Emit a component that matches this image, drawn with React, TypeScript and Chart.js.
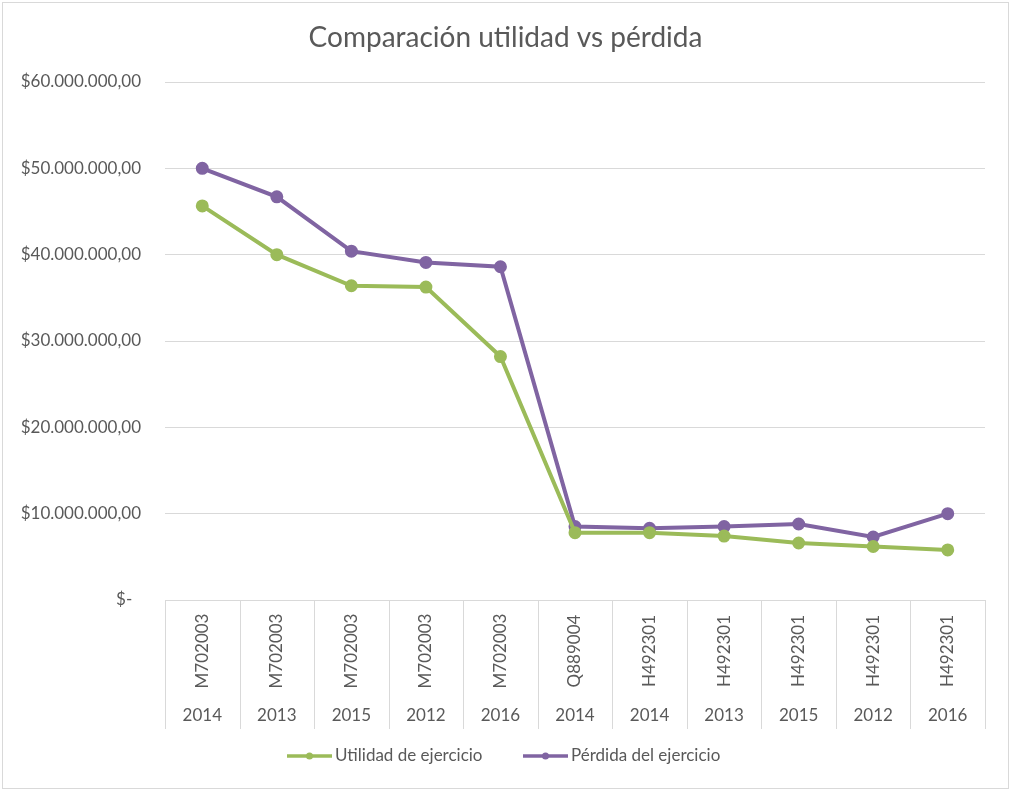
import React, { useEffect, useRef } from "react";
import { Chart, registerables } from "chart.js";

Chart.register(...registerables);

const chartTitle = "Comparación utilidad vs pérdida";
const codes = ["M702003", "M702003", "M702003", "M702003", "M702003", "Q889004", "H492301", "H492301", "H492301", "H492301", "H492301"];
const years = ["2014", "2013", "2015", "2012", "2016", "2014", "2014", "2013", "2015", "2012", "2016"];
const seriesNames = ["Utilidad de ejercicio", "Pérdida del ejercicio"];
const utilidad = [45650000, 40000000, 36400000, 36250000, 28200000, 7800000, 7800000, 7400000, 6600000, 6200000, 5800000];
const perdida = [50000000, 46700000, 40400000, 39100000, 38600000, 8500000, 8300000, 8500000, 8800000, 7300000, 10000000];
const yMin = 0;
const yMax = 60000000;
const yStep = 10000000;

const GREEN = "#9BBB59";
const PURPLE = "#8064A2";
const TEXT = "#595959";
const GRID = "#d9d9d9";
const FONT = "Lato";

function fmt(v: number): string {
  if (v === 0) return "$-  ";
  const s = Math.round(v).toString().replace(/\B(?=(\d{3})+(?!\d))/g, ".");
  return "$" + s + ",00";
}

const decor = {
  id: "decor",
  afterDraw(chart: any) {
    const ctx = chart.ctx;
    const area = chart.chartArea;
    const xs = chart.scales.x;
    ctx.save();
    // border
    ctx.strokeStyle = GRID;
    ctx.lineWidth = 1;
    ctx.strokeRect(2.5, 2.5, chart.width - 5, chart.height - 5);
    // title
    ctx.fillStyle = TEXT;
    ctx.font = `28px ${FONT}`;
    ctx.textAlign = "center";
    ctx.textBaseline = "middle";
    ctx.fillText(chartTitle, chart.width / 2, 38);
    // category boxes
    const n = codes.length;
    const bounds: number[] = [area.left];
    for (let i = 0; i < n - 1; i++) {
      bounds.push((xs.getPixelForValue(i) + xs.getPixelForValue(i + 1)) / 2);
    }
    bounds.push(area.right);
    ctx.strokeStyle = GRID;
    ctx.beginPath();
    ctx.moveTo(area.left, area.bottom + 0.5);
    ctx.lineTo(area.right, area.bottom + 0.5);
    for (const b of bounds) {
      ctx.moveTo(Math.round(b) + 0.5, area.bottom);
      ctx.lineTo(Math.round(b) + 0.5, 729);
    }
    ctx.stroke();
    ctx.fillStyle = TEXT;
    ctx.font = `17px ${FONT}`;
    for (let i = 0; i < n; i++) {
      const cx = xs.getPixelForValue(i);
      ctx.save();
      ctx.translate(cx, 651);
      ctx.rotate(-Math.PI / 2);
      ctx.textAlign = "center";
      ctx.textBaseline = "middle";
      ctx.fillText(codes[i], 0, 0);
      ctx.restore();
      ctx.textAlign = "center";
      ctx.textBaseline = "middle";
      ctx.fillText(years[i], cx, 716);
    }
    // legend
    const items = [
      { x: 287, color: GREEN, label: seriesNames[0] },
      { x: 523, color: PURPLE, label: seriesNames[1] },
    ];
    for (const it of items) {
      ctx.strokeStyle = it.color;
      ctx.lineWidth = 3.5;
      ctx.beginPath();
      ctx.moveTo(it.x, 756);
      ctx.lineTo(it.x + 45, 756);
      ctx.stroke();
      ctx.fillStyle = it.color;
      ctx.beginPath();
      ctx.arc(it.x + 22.5, 756, 3.5, 0, Math.PI * 2);
      ctx.fill();
      ctx.fillStyle = TEXT;
      ctx.textAlign = "left";
      ctx.textBaseline = "middle";
      ctx.font = `17px ${FONT}`;
      ctx.fillText(it.label, it.x + 48, 756);
    }
    ctx.restore();
  },
};

export default function App() {
  const ref = useRef<HTMLCanvasElement | null>(null);
  useEffect(() => {
    document.body.style.margin = "0";
    if (!ref.current) return;
    const chart = new Chart(ref.current, {
      type: "line",
      data: {
        labels: codes.map((c, i) => `${c} ${years[i]}`),
        datasets: [
          {
            label: seriesNames[0],
            data: utilidad,
            borderColor: GREEN,
            backgroundColor: GREEN,
            borderWidth: 4,
            pointRadius: 4.5,
            pointBackgroundColor: GREEN,
            pointBorderColor: GREEN,
            tension: 0,
          },
          {
            label: seriesNames[1],
            data: perdida,
            borderColor: PURPLE,
            backgroundColor: PURPLE,
            borderWidth: 4,
            pointRadius: 4.5,
            pointBackgroundColor: PURPLE,
            pointBorderColor: PURPLE,
            tension: 0,
          },
        ],
      },
      options: {
        responsive: false,
        animation: false,
        layout: { padding: { left: 0, top: 82, right: 26, bottom: 191 } },
        plugins: {
          legend: { display: false },
          title: { display: false },
          tooltip: { enabled: false },
        },
        scales: {
          x: {
            type: "category",
            display: false,
            offset: true,
          },
          y: {
            min: yMin,
            max: yMax,
            afterFit: (s: any) => {
              s.width = 165;
            },
            border: { display: false },
            grid: { color: GRID, drawTicks: false, lineWidth: 1 },
            ticks: {
              stepSize: yStep,
              padding: 24,
              color: TEXT,
              font: { family: FONT, size: 17 },
              callback: (v: any) => fmt(Number(v)),
            },
          },
        },
      },
      plugins: [decor],
    });
    return () => chart.destroy();
  }, []);
  return (
    <div style={{ position: "absolute", left: 0, top: 0, width: 1011, height: 791, background: "#fff" }}>
      <canvas ref={ref} width={1011} height={791} style={{ width: 1011, height: 791, display: "block" }} />
    </div>
  );
}
